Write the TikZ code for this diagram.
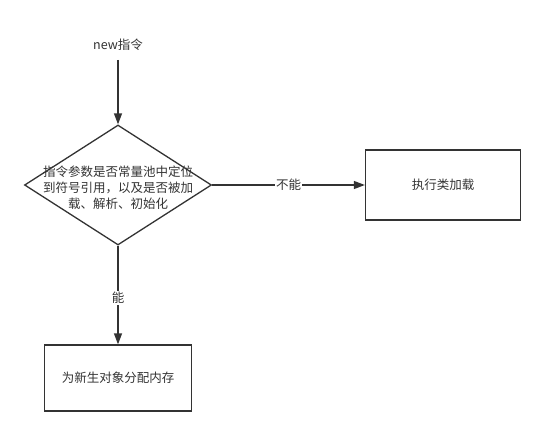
\documentclass[tikz,border=0pt]{standalone}
\usepackage{fontspec}
\setmainfont{Noto Sans CJK SC}
\usepackage{xcolor}
\definecolor{ink}{HTML}{333333}
\usetikzlibrary{shapes.geometric,arrows.meta}

\begin{document}
\begin{tikzpicture}[x=1pt,y=1pt,yscale=-1,xscale=1,
	line/.style={draw=ink,line width=1.3pt},
	flow/.style={line,-{Triangle[length=11pt,width=8pt]}},
	txt/.style={text=ink,font=\fontsize{12.5}{16}\selectfont,inner sep=0.75pt},
	box/.style={line,rectangle,minimum width=151pt,minimum height=67pt,inner sep=0pt}]
	\useasboundingbox (0,0) rectangle (545,436);
	% start text and decision
	\node (start) [txt] at (118,45) {new指令};
	\node (check) [line,diamond,minimum width=187pt,minimum height=120pt,inner sep=0pt] at (118,185) {};
	\node (checktext) [txt,align=center] at (118,188) {指令参数是否常量池中定位\\到符号引用，以及是否被加\\载、解析、初始化};
	% result boxes
	\node (load) [box,txt,minimum width=155pt,minimum height=70pt] at (443,185) {执行类加载};
	\node (alloc) [box,txt,minimum width=147pt,minimum height=66pt] at (118,378) {为新生对象分配内存};
	% connectors
	\draw [flow] (start.south) ++(0,8) -- (check.north);
	\draw [flow] (check.east) -- node [txt,fill=white,inner sep=1pt] {不能} (load.west);
	\draw [flow] (check.south) -- node [txt,fill=white,inner sep=1pt,pos=0.53] {能} (alloc.north);
\end{tikzpicture}
\end{document}
